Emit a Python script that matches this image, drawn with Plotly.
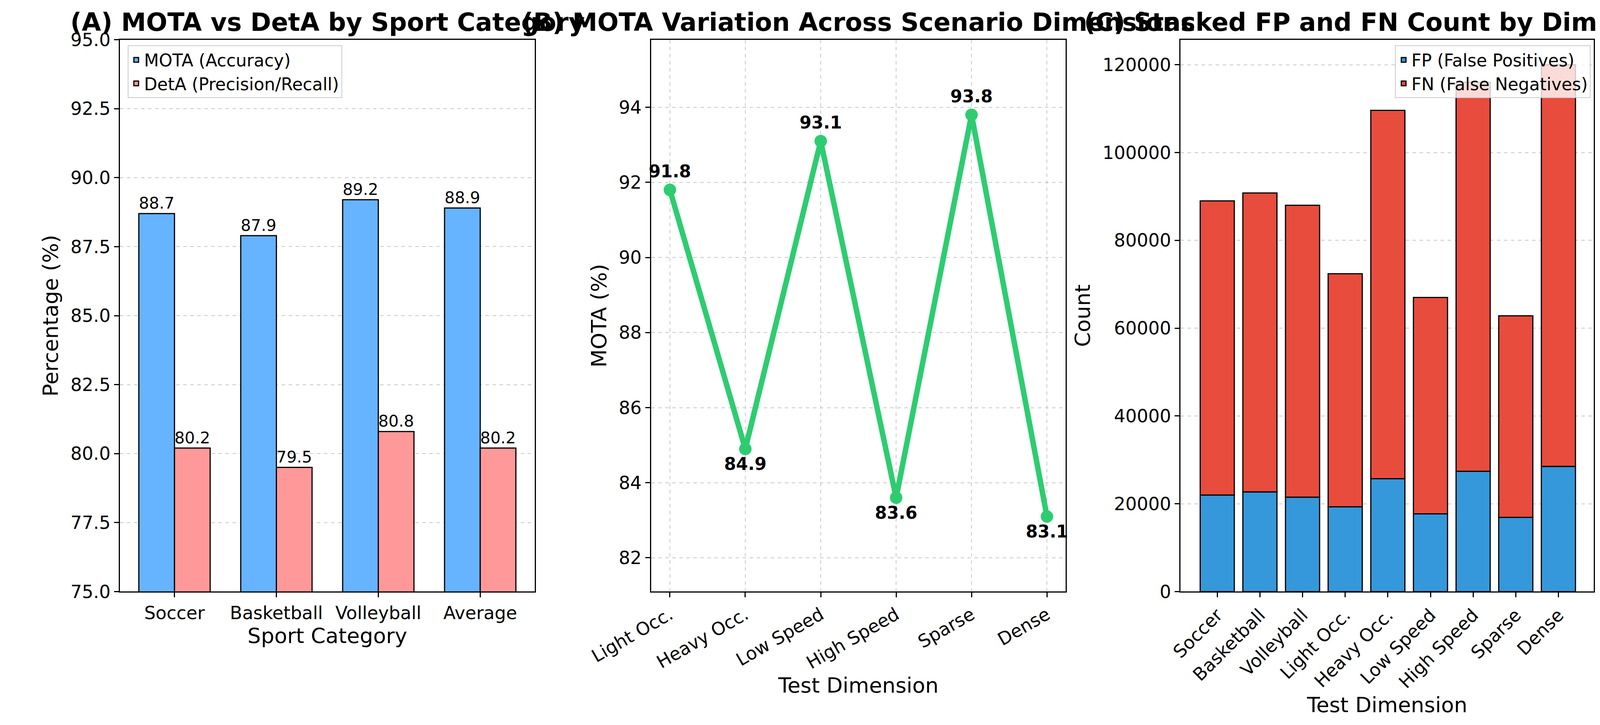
import plotly.graph_objects as go

# (A) data
sports = ['Soccer', 'Basketball', 'Volleyball', 'Average']
mota_sport = [88.7, 87.9, 89.2, 88.9]
deta_sport = [80.2, 79.5, 80.8, 80.2]

# (B) data
scenarios = ['Light Occ.', 'Heavy Occ.', 'Low Speed', 'High Speed', 'Sparse', 'Dense']
mota_scen = [91.8, 84.9, 93.1, 83.6, 93.8, 83.1]

# (C) data
dims = ['Soccer', 'Basketball', 'Volleyball', 'Light Occ.', 'Heavy Occ.',
        'Low Speed', 'High Speed', 'Sparse', 'Dense']
fp = [22000, 22700, 21500, 19300, 25700, 17700, 27400, 16900, 28500]
fn = [67000, 68100, 66500, 53100, 83900, 49300, 88600, 45900, 91500]

FONT = 'DejaVu Sans'
TICK = 46
AX = 54
TITLE = 64
LBL = 44
grid = dict(showgrid=True, gridcolor='#c8c8c8', griddash='dash', gridwidth=2)
frame = dict(showline=True, linecolor='black', linewidth=3, mirror=True,
             ticks='outside', ticklen=12, tickwidth=3, tickcolor='black',
             tickfont=dict(size=TICK, family=FONT, color='black'), zeroline=False)

fig = go.Figure()

xa = list(range(len(sports)))
fig.add_trace(go.Bar(x=xa, y=mota_sport, width=0.35, offset=-0.35, name='MOTA (Accuracy)',
                     marker=dict(color='#66b3ff', line=dict(color='black', width=3)),
                     text=[f'{v:.1f}' for v in mota_sport], textposition='outside',
                     textfont=dict(size=LBL, family=FONT, color='black'), cliponaxis=False,
                     xaxis='x', yaxis='y', legend='legend'))
fig.add_trace(go.Bar(x=xa, y=deta_sport, width=0.35, offset=0, name='DetA (Precision/Recall)',
                     marker=dict(color='#ff9999', line=dict(color='black', width=3)),
                     text=[f'{v:.1f}' for v in deta_sport], textposition='outside',
                     textfont=dict(size=LBL, family=FONT, color='black'), cliponaxis=False,
                     xaxis='x', yaxis='y', legend='legend'))

xb = list(range(len(scenarios)))
fig.add_trace(go.Scatter(x=xb, y=mota_scen, mode='lines+markers+text',
                         line=dict(color='#2ecc71', width=14), marker=dict(size=32, color='#2ecc71'),
                         text=[f'<b>{v:.1f}</b>' for v in mota_scen],
                         textposition=['top center', 'bottom center'] * 3,
                         textfont=dict(size=LBL, family=FONT, color='black'),
                         showlegend=False, cliponaxis=False, xaxis='x2', yaxis='y2'))

xc = list(range(len(dims)))
fig.add_trace(go.Bar(x=xc, y=fp, width=0.8, name='FP (False Positives)',
                     marker=dict(color='#3498db', line=dict(color='black', width=3)),
                     xaxis='x3', yaxis='y3', legend='legend2'))
fig.add_trace(go.Bar(x=xc, y=fn, base=fp, width=0.8, name='FN (False Negatives)',
                     marker=dict(color='#e74c3c', line=dict(color='black', width=3)),
                     xaxis='x3', yaxis='y3', legend='legend2'))

fig.update_layout(
    autosize=True, barmode='overlay',
    paper_bgcolor='white', plot_bgcolor='white',
    margin=dict(l=0, r=0, t=0, b=0),
    font=dict(family=FONT, color='black'),
    xaxis=dict(domain=[0.035, 0.306], range=[-0.535, 3.535], tickvals=xa, ticktext=sports,
               title=dict(text='Sport Category', font=dict(size=AX), standoff=5), **frame),
    yaxis=dict(domain=[0.179, 0.963], range=[75, 95], dtick=2.5, tickformat='.1f',
               title=dict(text='Percentage (%)', font=dict(size=AX), standoff=15), **frame, **grid),
    xaxis2=dict(domain=[0.382, 0.653], range=[-0.25, 5.25], tickvals=xb, ticktext=scenarios,
                tickangle=-30, anchor='y2',
                title=dict(text='Test Dimension', font=dict(size=AX), standoff=5), **frame, **grid),
    yaxis2=dict(domain=[0.179, 0.963], range=[81.1, 95.8], dtick=2, anchor='x2',
                title=dict(text='MOTA (%)', font=dict(size=AX), standoff=15), **frame, **grid),
    xaxis3=dict(domain=[0.728, 0.998], range=[-0.86, 8.83], tickvals=xc, ticktext=dims,
                tickangle=-45, anchor='y3',
                title=dict(text='Test Dimension', font=dict(size=AX), standoff=5), **frame),
    yaxis3=dict(domain=[0.179, 0.963], range=[0, 125700], dtick=20000, tickformat='d',
                anchor='x3',
                title=dict(text='Count', font=dict(size=AX), standoff=15), **frame, **grid),
    legend=dict(x=0.04, y=0.955, xanchor='left', yanchor='top', bgcolor='rgba(255,255,255,0.8)',
                bordercolor='#cccccc', borderwidth=2, font=dict(size=LBL, family=FONT),
                traceorder='normal'),
    legend2=dict(x=0.996, y=0.955, xanchor='right', yanchor='top', bgcolor='rgba(255,255,255,0.8)',
                 bordercolor='#cccccc', borderwidth=2, font=dict(size=LBL, family=FONT),
                 traceorder='normal'),
    annotations=[
        dict(text='<b>(A) MOTA vs DetA by Sport Category</b>', x=0.1705, y=0.966, xref='paper',
             yref='paper', xanchor='center', yanchor='bottom', showarrow=False,
             font=dict(size=TITLE, family=FONT)),
        dict(text='<b>(B) MOTA Variation Across Scenario Dimensions</b>', x=0.5175, y=0.966,
             xref='paper', yref='paper', xanchor='center', yanchor='bottom', showarrow=False,
             font=dict(size=TITLE, family=FONT)),
        dict(text='<b>(C) Stacked FP and FN Count by Dimension</b>', x=0.863, y=0.966,
             xref='paper', yref='paper', xanchor='center', yanchor='bottom', showarrow=False,
             font=dict(size=TITLE, family=FONT)),
    ],
)

fig.write_html('out.html', default_width='100%', default_height='100vh')
